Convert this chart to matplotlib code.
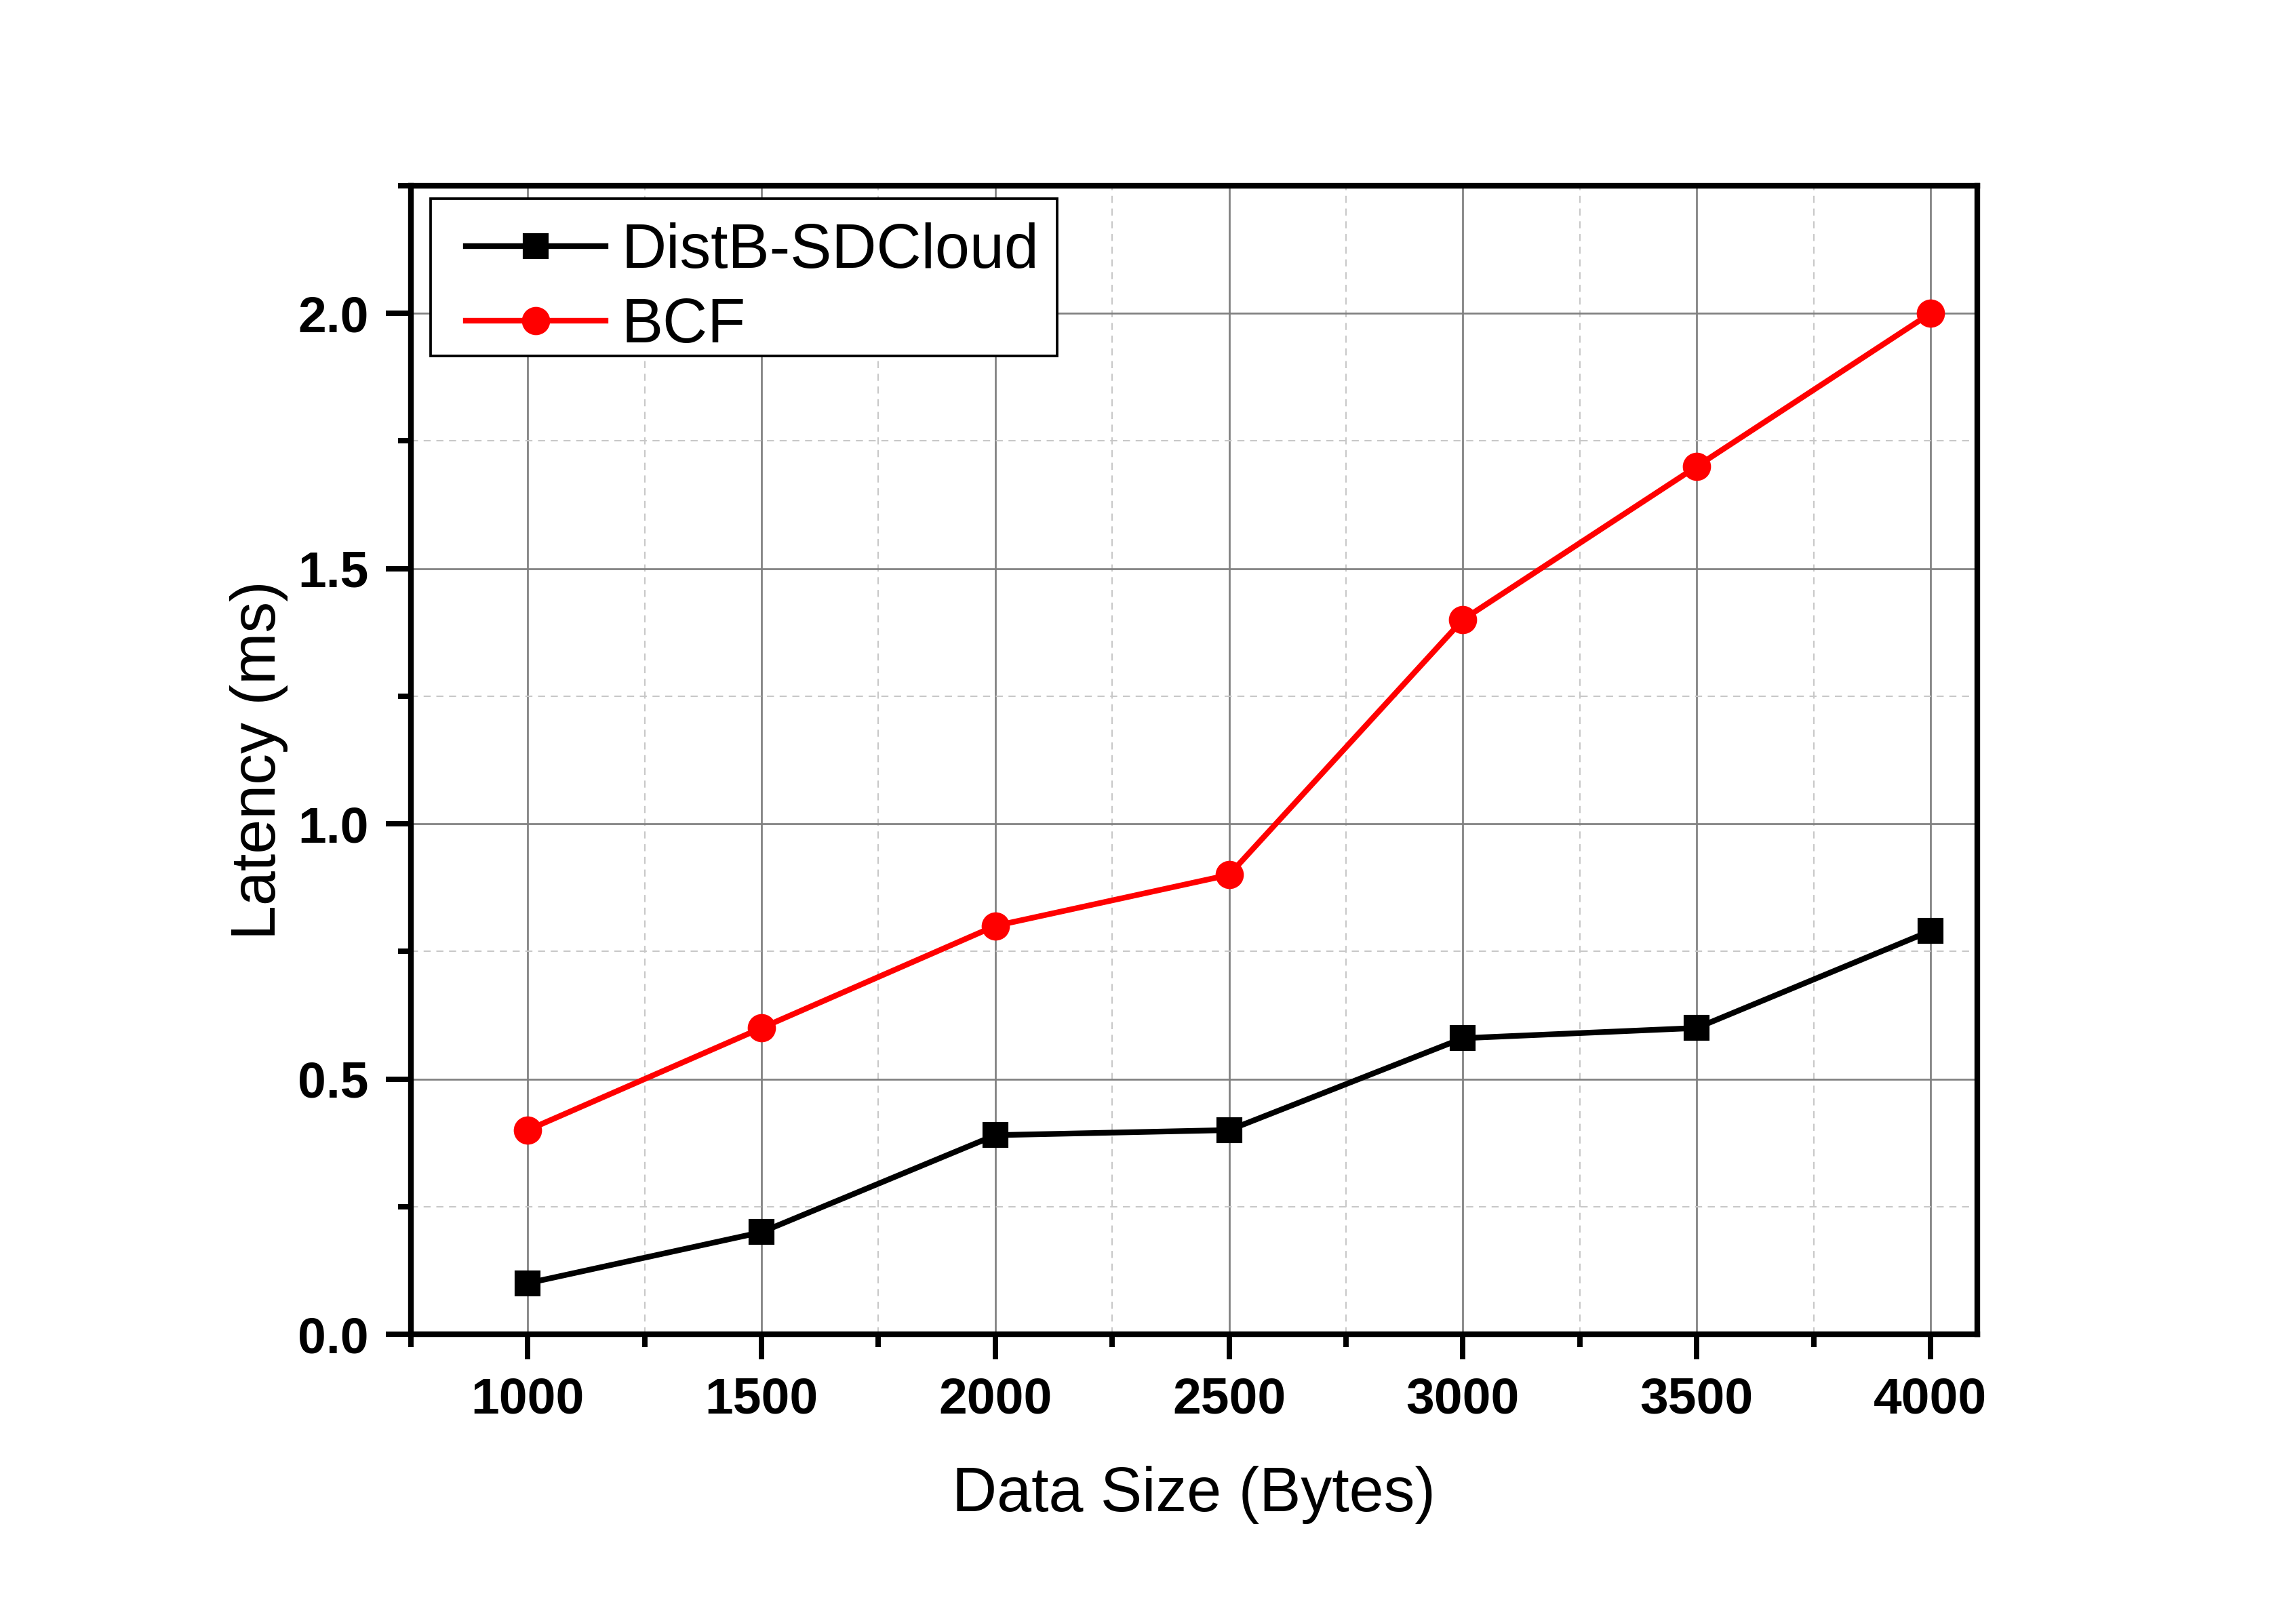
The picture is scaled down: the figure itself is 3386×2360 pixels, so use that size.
import matplotlib
matplotlib.use("Agg")
import matplotlib.pyplot as plt
from matplotlib.ticker import MultipleLocator, FormatStrFormatter
from matplotlib.legend_handler import HandlerLine2D
from matplotlib.lines import Line2D
from matplotlib.patches import Rectangle

plt.rcParams['font.family'] = ['Liberation Sans', 'DejaVu Sans']

data_size = [1000, 1500, 2000, 2500, 3000, 3500, 4000]
distb_sdcloud = [0.10, 0.20, 0.39, 0.40, 0.58, 0.60, 0.79]
bcf = [0.40, 0.60, 0.80, 0.90, 1.40, 1.70, 2.00]
series_labels = ["DistB-SDCloud", "BCF"]
x_label = "Data Size (Bytes)"
y_label = "Latency (ms)"

fig = plt.figure(figsize=(3387/300, 2360/300), dpi=300)
ax = fig.add_axes([0.1789, 0.1661, 0.8609-0.1789, 0.8839-0.1661])

ax.plot(data_size, distb_sdcloud, color='black', lw=2.0, marker='s', ms=8,
        mew=1.0, label=series_labels[0], zorder=3)
ax.plot(data_size, bcf, color='#ff0000', lw=2.0, marker='o', ms=9,
        mew=1.0, label=series_labels[1], zorder=3)

ax.set_xlim(750, 4100)
ax.set_ylim(0, 2.25)
ax.xaxis.set_major_locator(MultipleLocator(500))
ax.xaxis.set_minor_locator(MultipleLocator(250))
ax.yaxis.set_major_locator(MultipleLocator(0.5))
ax.yaxis.set_minor_locator(MultipleLocator(0.25))
ax.yaxis.set_major_formatter(FormatStrFormatter('%.1f'))
ax.set_xticks(data_size)

ax.grid(which='major', color='#808080', lw=0.65, ls='-', zorder=0)
ax.grid(which='minor', color='#c8c8c8', lw=0.5, ls=(0, (5, 4)), zorder=0)
ax.set_axisbelow(True)

for s in ax.spines.values():
    s.set_linewidth(2.0)
ax.tick_params(which='major', direction='out', length=8.9, width=1.9,
               labelsize=18, pad=6, top=False, right=False)
ax.tick_params(which='minor', direction='out', length=4.5, width=1.9,
               top=False, right=False)
for lab in ax.get_xticklabels() + ax.get_yticklabels():
    lab.set_fontweight('bold')

ax.set_xlabel(x_label, fontsize=22, va='center')
ax.xaxis.set_label_coords(0.500, -0.140)
ax.set_ylabel(y_label, fontsize=22, va='center')
ax.yaxis.set_label_coords(-0.097, 0.5)

# legend frame
frame = Rectangle((0.01255, 0.8518), 0.4126 - 0.01255, 0.9888 - 0.8518,
                  transform=ax.transAxes, facecolor='white', edgecolor='black',
                  lw=0.9, zorder=4)
ax.add_patch(frame)

hmap = {Line2D: HandlerLine2D(xpad=0.39)}
leg = ax.legend(loc='upper left', bbox_to_anchor=(0.01255, 0.9780), fontsize=22,
                frameon=False, handlelength=2.63, handletextpad=0.265,
                labelspacing=0.26, borderpad=0.18, borderaxespad=0,
                handler_map=hmap)
leg.set_zorder(5)

fig.savefig("out.png", dpi=300)
